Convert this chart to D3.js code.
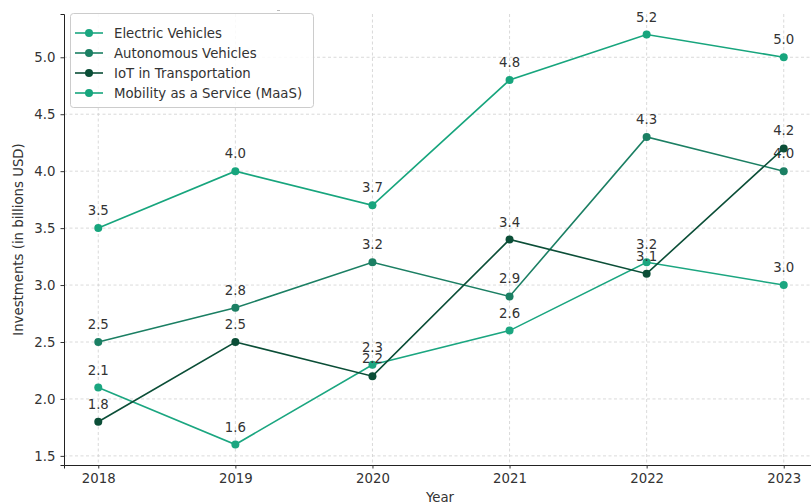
<!DOCTYPE html>
<html><head><meta charset="utf-8">
<script src="https://cdn.jsdelivr.net/npm/d3@7"></script>
<style>body{margin:0;background:#fff}svg{display:block;font-family:"DejaVu Sans",sans-serif}</style>
</head><body><svg id="c" width="811" height="503"></svg>
<script>
const years = [2018, 2019, 2020, 2021, 2022, 2023];
const seriesNames = ["Electric Vehicles", "Autonomous Vehicles", "IoT in Transportation", "Mobility as a Service (MaaS)"];
const electricVehicles = [2.1, 1.6, 2.3, 2.6, 3.2, 3.0];
const autonomousVehicles = [2.5, 2.8, 3.2, 2.9, 4.3, 4.0];
const iotTransportation = [1.8, 2.5, 2.2, 3.4, 3.1, 4.2];
const maas = [3.5, 4.0, 3.7, 4.8, 5.2, 5.0];
const colors = ["#1ba680", "#1b7f63", "#0b4e37", "#17a57d"];
const yTicks = [1.5, 2.0, 2.5, 3.0, 3.5, 4.0, 4.5, 5.0];

const series = [electricVehicles, autonomousVehicles, iotTransportation, maas];
const svg = d3.select("#c");
const L = 64, R = 818, T = 14, B = 465;
const x = d3.scaleLinear().domain([2017.75, 2023.25]).range([L, R]);
const y = d3.scaleLinear().domain([1.42, 5.38]).range([B, T]);

const grid = svg.append("g");
years.forEach(v => grid.append("line").attr("x1", x(v)).attr("x2", x(v)).attr("y1", T).attr("y2", B)
  .attr("stroke", "#d0d0d0").attr("stroke-width", 0.8).attr("stroke-dasharray", "3,2.5"));
yTicks.forEach(v => grid.append("line").attr("x1", L).attr("x2", R).attr("y1", y(v)).attr("y2", y(v))
  .attr("stroke", "#d0d0d0").attr("stroke-width", 0.8).attr("stroke-dasharray", "3,2.5"));

const xAxis = d3.axisBottom(x).tickValues(years).tickFormat(d3.format("d")).tickSizeOuter(0).tickSize(3.5).tickPadding(5);
const gx = svg.append("g").attr("transform", `translate(0,${B})`).call(xAxis);
gx.select(".domain").attr("stroke", "#222").attr("stroke-width", 1);
gx.selectAll("text").attr("font-size", 13.3).attr("fill", "#333").attr("font-family", "DejaVu Sans");
gx.selectAll(".tick line").attr("stroke", "#333");

const yAxis = d3.axisLeft(y).tickValues(yTicks).tickFormat(d3.format(".1f")).tickSizeOuter(0).tickSize(3.5).tickPadding(5);
const gy = svg.append("g").attr("transform", `translate(${L},0)`).call(yAxis);
gy.select(".domain").attr("stroke", "#222").attr("stroke-width", 1);
gy.selectAll("text").attr("font-size", 13.3).attr("fill", "#333").attr("font-family", "DejaVu Sans");
gy.selectAll(".tick line").attr("stroke", "#333");

svg.append("text").attr("x", 440).attr("y", 502).attr("text-anchor", "middle").attr("font-size", 13.3).attr("fill", "#333").text("Year");
svg.append("text").attr("transform", `translate(23,${(T + B) / 2}) rotate(-90)`).attr("text-anchor", "middle")
  .attr("font-size", 13.3).attr("fill", "#333").text("Investments (in billions USD)");

const line = d3.line().x((d, i) => x(years[i])).y(d => y(d));
series.forEach((s, k) => {
  const g = svg.append("g");
  g.append("path").datum(s).attr("d", line).attr("fill", "none").attr("stroke", colors[k]).attr("stroke-width", 1.6);
  g.selectAll("circle").data(s).join("circle").attr("cx", (d, i) => x(years[i])).attr("cy", d => y(d)).attr("r", 4).attr("fill", colors[k]);
  g.selectAll("text").data(s).join("text").attr("x", (d, i) => x(years[i])).attr("y", d => y(d) - 13)
    .attr("text-anchor", "middle").attr("font-size", 13.3).attr("fill", "#333").text(d => d.toFixed(1));
});

// legend
const lg = svg.append("g");
lg.append("rect").attr("x", 70.5).attr("y", 13.5).attr("width", 243).attr("height", 94).attr("rx", 3)
  .attr("fill", "white").attr("fill-opacity", 0.85).attr("stroke", "#ccc");
seriesNames.forEach((n, k) => {
  const yy = 33 + k * 20;
  lg.append("line").attr("x1", 75).attr("x2", 103).attr("y1", yy).attr("y2", yy).attr("stroke", colors[k]).attr("stroke-width", 1.6);
  lg.append("circle").attr("cx", 89).attr("cy", yy).attr("r", 4).attr("fill", colors[k]);
  lg.append("text").attr("x", 114).attr("y", yy + 4.7).attr("font-size", 13.3).attr("fill", "#333").text(n);
});
svg.append("line").attr("x1", 277).attr("x2", 280).attr("y1", 10.5).attr("y2", 10.5).attr("stroke", "#bbb");
</script></body></html>
